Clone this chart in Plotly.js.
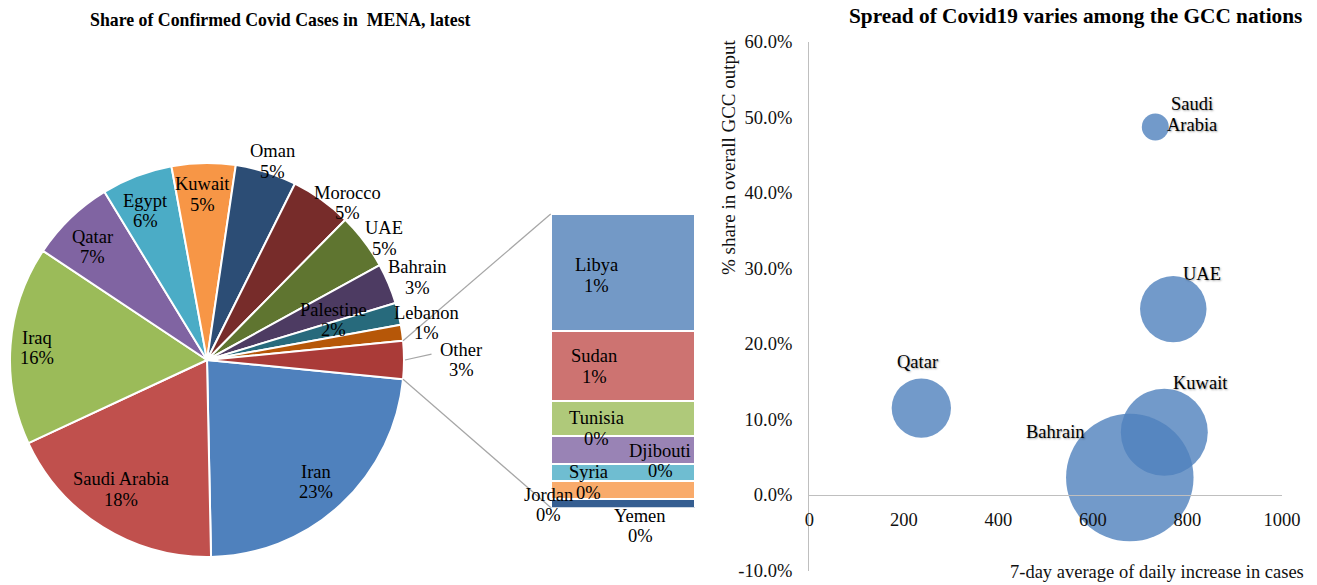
<!DOCTYPE html>
<html><head><meta charset="utf-8">
<script src="https://cdn.plot.ly/plotly-3.0.1.min.js"></script>
<style>html,body{margin:0;padding:0;background:#fff}</style>
</head><body><div id="chart" style="width:1317px;height:585px"></div>
<script>
// ---------------- data ----------------
const pieLabels = ['Iran','Saudi Arabia','Iraq','Qatar','Egypt','Kuwait','Oman','Morocco','UAE','Bahrain','Palestine','Lebanon'];
const pieValues = [23.0, 18.3, 16.2, 6.9, 5.8, 5.2, 5.0, 5.0, 4.6, 3.3, 1.8, 1.3];
const otherLabel = 'Other';
const barLabels = ['Libya','Sudan','Tunisia','Djibouti','Syria','Jordan','Yemen'];
const barValues = [1.24, 0.74, 0.36, 0.30, 0.18, 0.19, 0.09];

const gccCountries = ['Saudi Arabia','UAE','Qatar','Kuwait','Bahrain'];
const gccLabelLines = [['Saudi','Arabia'],['UAE'],['Qatar'],['Kuwait'],['Bahrain']];
const avgDailyIncrease = [732, 770, 237, 751, 678];
const gccShare = [0.487, 0.246, 0.115, 0.083, 0.023];
const bubbleSize = [0.73, 4.42, 3.52, 7.57, 16.26];
const xTickVals = [0, 200, 400, 600, 800, 1000];
const xTickText = ['0','200','400','600','800','1000'];
const yTickVals = [-0.1, 0, 0.1, 0.2, 0.3, 0.4, 0.5, 0.6];
const yTickText = ['-10.0%','0.0%','10.0%','20.0%','30.0%','40.0%','50.0%','60.0%'];

const titleLeft = 'Share of Confirmed Covid Cases in \u00A0MENA, latest';
const titleRight = 'Spread of Covid19 varies among the GCC nations';
const xTitle = '7-day average of daily increase in cases';
const yTitle = '% share in overall GCC output';

// ---------------- style ----------------
const W = 1317, H = 585;
const FONT = 'Liberation Serif, Times New Roman, serif';
const FS = 18.5, LS = 20.5;
const pieColors = ['#4F81BD','#C0504D','#9BBB59','#8064A2','#4BACC6','#F79646','#2C4D75','#772C2A','#5F7530','#4D3B62','#276A7C','#B65708','#AA3B38'];
const barColors = ['#7399C6','#CD7371','#AFC97A','#9983B5','#6FBDD1','#F9AB6B','#355E91'];
const pieCX = 207, pieCY = 360, pieR = 197;
const labelR  = [0.83, 0.79, 0.865, 0.815, 0.82, 0.84, 1.06, 1.07, 1.09, 1.145, 0.675, 1.13, 1.29];
const labelDA = [1, 1.6, -0.3, -1.4, -1.6, -0.7, 0.7, 6.3, 2.7, 1.4, -3.9, -1.6, 0];
const barBox = {x0: 550.7, x1: 695.3, y0: 214, y1: 507.5};
const barLabelShift = [[-27,3],[-29,0],[-27,10],[37,11],[-35,10],[-75,15],[17,23]];
const bubbleBox = {x0: 809.3, x1: 1282, y0: 41.7, y1: 570.5};
const bubbleLabelShift = [[37,12.5],[29,35],[-4,46],[36,49],[-74,46]];
const maxBubbleDiameter = 127.5;
const lblFont = {family: FONT, size: FS, color: '#000'};
const shadowFont = {family: FONT, size: FS, color: '#000', shadow: '1px 1px 2px rgba(0,0,0,0.35)'};

// ---------------- build ----------------
const otherValue = barValues.reduce((a,b)=>a+b,0);
const allLabels = pieLabels.concat([otherLabel]);
const allValues = pieValues.concat([otherValue]);
const total = allValues.reduce((a,b)=>a+b,0);
const pct = v => Math.round(v/total*100) + '%';
const rotation = 90 + (otherValue/total)*360/2;

const traces = [];
traces.push({
  type: 'pie', labels: allLabels, values: allValues, sort: false,
  direction: 'clockwise', rotation: rotation,
  marker: {colors: pieColors, line: {color: '#fff', width: 2}},
  textinfo: 'none', hoverinfo: 'label+percent', showlegend: false,
  domain: {x: [(pieCX-pieR)/W, (pieCX+pieR)/W], y: [1-(pieCY+pieR)/H, 1-(pieCY-pieR)/H]}
});

for (let i = barLabels.length-1; i >= 0; i--) {
  traces.push({
    type: 'bar', x: [0], y: [barValues[i]], xaxis: 'x2', yaxis: 'y2', name: barLabels[i],
    marker: {color: barColors[i], line: {color: '#fff', width: 2}},
    hoverinfo: 'name+y', showlegend: false
  });
}

const maxSize = Math.max.apply(null, bubbleSize);
traces.push({
  type: 'scatter', mode: 'markers', x: avgDailyIncrease, y: gccShare, xaxis: 'x3', yaxis: 'y3',
  text: gccCountries, hoverinfo: 'text+x+y',
  marker: {size: bubbleSize, sizemode: 'area', sizeref: 2*maxSize/(maxBubbleDiameter*maxBubbleDiameter),
           color: '#4F81BD', opacity: 0.8, line: {width: 0}},
  showlegend: false
});

const annotations = [];
const shapes = [];
const toPX = (ang, d) => [pieCX + d*Math.sin(ang*Math.PI/180), pieCY - d*Math.cos(ang*Math.PI/180)];

// add a multi-line label as separate lines with tight spacing
function addLines(lines, base, font) {
  const n = lines.length;
  lines.forEach((t, k) => {
    const a = Object.assign({}, base);
    a.text = t;
    a.yshift = (base.yshift || 0) + ((n-1)/2 - k)*LS;
    a.showarrow = false; a.xanchor = 'center'; a.yanchor = 'middle';
    a.font = font;
    annotations.push(a);
  });
}

// pie labels
let cum = rotation;
const startAngles = [], endAngles = [];
allValues.forEach((v, i) => {
  const span = v/total*360;
  startAngles.push(cum); endAngles.push(cum+span);
  const mid = cum + span/2 + labelDA[i];
  const p = toPX(mid, pieR*labelR[i]);
  addLines([allLabels[i], pct(v)], {xref:'paper', yref:'paper', x: p[0]/W, y: 1-p[1]/H}, lblFont);
  cum += span;
});

// connector lines (other slice -> bar)
const oi = allValues.length-1;
const pTop = toPX(startAngles[oi], pieR), pBot = toPX(endAngles[oi], pieR);
shapes.push({type:'line', xref:'paper', yref:'paper', x0:pTop[0]/W, y0:1-pTop[1]/H, x1:barBox.x0/W, y1:1-barBox.y0/H, line:{color:'#A6A6A6', width:1.2}});
shapes.push({type:'line', xref:'paper', yref:'paper', x0:pBot[0]/W, y0:1-pBot[1]/H, x1:barBox.x0/W, y1:1-barBox.y1/H, line:{color:'#A6A6A6', width:1.2}});
const oMid = (startAngles[oi]+endAngles[oi])/2;
const l0 = toPX(oMid, pieR*1.005), l1 = toPX(oMid-1.5, pieR*1.14);
shapes.push({type:'line', xref:'paper', yref:'paper', x0:l0[0]/W, y0:1-l0[1]/H, x1:l1[0]/W, y1:1-l1[1]/H, line:{color:'#A6A6A6', width:1.2}});

// bar labels
let base = otherValue;
barValues.forEach((v, i) => {
  const mid = base - v/2;
  base -= v;
  addLines([barLabels[i], pct(v)], {xref:'x2', yref:'y2', x: 0, y: mid,
    xshift: barLabelShift[i][0], yshift: -barLabelShift[i][1]}, lblFont);
});

// bubble labels
gccLabelLines.forEach((lines, i) => {
  addLines(lines, {xref:'x3', yref:'y3', x: avgDailyIncrease[i], y: gccShare[i],
    xshift: bubbleLabelShift[i][0], yshift: bubbleLabelShift[i][1]}, shadowFont);
});

// titles
annotations.push({xref:'paper', yref:'paper', x: 280/W, y: 1-20/H, xanchor:'center', yanchor:'middle', showarrow:false,
  text: '<b>' + titleLeft + '</b>', font: {family: FONT, size: 17.8, color: '#000'}});
annotations.push({xref:'paper', yref:'paper', x: 1075/W, y: 1-16/H, xanchor:'center', yanchor:'middle', showarrow:false,
  text: '<b>' + titleRight + '</b>', font: {family: FONT, size: 21.3, color: '#000'}});
annotations.push({xref:'paper', yref:'paper', x: 1306/W, y: 1-572/H, xanchor:'right', yanchor:'middle', showarrow:false,
  text: xTitle, font: {family: FONT, size: FS, color: '#111'}});
annotations.push({xref:'paper', yref:'paper', x: 729/W, y: 1-157/H, xanchor:'center', yanchor:'middle', showarrow:false,
  textangle: -90, text: yTitle, font: {family: FONT, size: 19, color: '#111'}});

const yDom = [1-bubbleBox.y1/H, 1-bubbleBox.y0/H];
const yRange = [-0.1, 0.6];
const xAxisPos = yDom[0] + (0 - yRange[0])/(yRange[1]-yRange[0])*(yDom[1]-yDom[0]);
const tickFont = {family: FONT, size: FS, color: '#111'};

const layout = {
  width: W, height: H, margin: {l:0, r:0, t:0, b:0}, paper_bgcolor: '#fff', plot_bgcolor: 'rgba(0,0,0,0)',
  font: {family: FONT, size: FS, color: '#000'}, showlegend: false, barmode: 'stack', bargap: 0,
  xaxis2: {domain: [barBox.x0/W, barBox.x1/W], range: [-0.5, 0.5], visible: false, fixedrange: true, anchor: 'y2'},
  yaxis2: {domain: [1-barBox.y1/H, 1-barBox.y0/H], range: [0, otherValue], visible: false, fixedrange: true, anchor: 'x2'},
  xaxis3: {domain: [bubbleBox.x0/W, bubbleBox.x1/W], range: [0, 1000], tickmode: 'array', tickvals: xTickVals, ticktext: xTickText,
    anchor: 'free', position: xAxisPos, showline: true, linecolor: '#BFBFBF', linewidth: 1.3, showgrid: false, zeroline: false,
    ticks: '', ticklabelstandoff: 8, tickfont: tickFont, fixedrange: true},
  yaxis3: {domain: yDom, range: yRange, tickmode: 'array', tickvals: yTickVals, ticktext: yTickText, anchor: 'x3',
    showline: true, linecolor: '#BFBFBF', linewidth: 1.3, showgrid: false, zeroline: false, ticks: '',
    ticklabelstandoff: 12, tickfont: tickFont, fixedrange: true},
  annotations: annotations, shapes: shapes
};

Plotly.newPlot('chart', traces, layout, {displayModeBar: false, staticPlot: true});
</script></body></html>
